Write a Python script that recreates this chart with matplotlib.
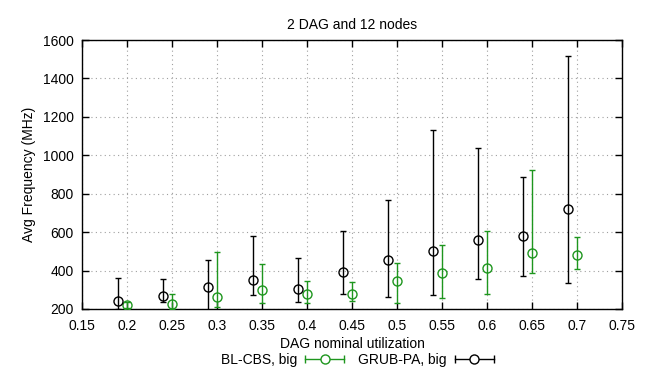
import matplotlib
matplotlib.use("Agg")
from matplotlib import pyplot as plt
from matplotlib.legend_handler import HandlerBase
from matplotlib.lines import Line2D
import numpy as np

plt.rcParams['font.family'] = ['Liberation Sans', 'DejaVu Sans']
plt.rcParams['font.size'] = 10

# GRUB-PA (black), slightly left of the nominal utilization
grub_x = [0.19, 0.24, 0.29, 0.34, 0.39, 0.44, 0.49, 0.54, 0.59, 0.64, 0.69]
grub_y = [243, 268, 314, 349, 306, 394, 457, 502, 559, 580, 720]
grub_lo = [200, 238, 195, 271, 238, 276, 261, 271, 356, 373, 334]
grub_hi = [363, 355, 457, 582, 467, 604, 766, 1131, 1036, 886, 1519]

# BL-CBS (green)
bl_x = [0.2, 0.25, 0.3, 0.35, 0.4, 0.45, 0.5, 0.55, 0.6, 0.65, 0.7]
bl_y = [219, 226, 264, 297, 276, 280, 348, 387, 411, 493, 481]
bl_lo = [205, 200, 209, 229, 233, 243, 229, 255, 276, 386, 407]
bl_hi = [235, 276, 495, 436, 344, 339, 438, 532, 604, 922, 576]

green = '#1e961e'

fig = plt.figure(figsize=(6.52, 3.74), dpi=100)
ax = fig.add_axes([82 / 652, 65 / 374, 540 / 652, 269 / 374])

def errs(y, lo, hi):
    y = np.array(y)
    return [y - np.array(lo), np.array(hi) - y]

ax.errorbar(bl_x, bl_y, yerr=errs(bl_y, bl_lo, bl_hi), fmt='o', ms=6.5,
            mfc='none', mec=green, mew=1, ecolor=green, elinewidth=1,
            capsize=2.5, capthick=1, zorder=3)
ax.errorbar(grub_x, grub_y, yerr=errs(grub_y, grub_lo, grub_hi), fmt='o', ms=6.5,
            mfc='none', mec='black', mew=1, ecolor='black', elinewidth=1,
            capsize=2.5, capthick=1, zorder=3)

ax.set_xlim(0.15, 0.75)
ax.set_ylim(200, 1600)
ax.set_xticks(np.arange(0.15, 0.751, 0.05))
ax.set_xticklabels(['0.15', '0.2', '0.25', '0.3', '0.35', '0.4', '0.45',
                    '0.5', '0.55', '0.6', '0.65', '0.7', '0.75'])
ax.set_yticks(range(200, 1601, 200))
ax.tick_params(direction='in', length=5, width=1, top=True, right=True)
ax.tick_params(axis='x', pad=7)
ax.tick_params(axis='y', pad=6)
ax.grid(True, linestyle=(0, (1, 3)), color='#a0a0a0', linewidth=0.8)
for s in ax.spines.values():
    s.set_linewidth(1)

ax.set_title('2 DAG and 12 nodes', fontsize=10, pad=8)
ax.set_xlabel('DAG nominal utilization', labelpad=3)
ax.set_ylabel('Avg Frequency (MHz)', labelpad=5)


# gnuplot style key sample: horizontal bar with caps and an open circle
class ErrKey(HandlerBase):
    def create_artists(self, legend, orig_handle, xdescent, ydescent,
                       width, height, fontsize, trans):
        c = orig_handle.get_color()
        y = height / 2 - ydescent
        x0, x1 = -xdescent, width - xdescent
        bar = Line2D([x0, x1], [y, y], color=c, lw=1)
        caps = Line2D([x0, x1], [y, y], ls='none', marker='|', ms=6, mew=1, color=c)
        circ = Line2D([(x0 + x1) / 2], [y], ls='none', marker='o', ms=6.5,
                      mfc='white', mec=c, mew=1)
        for a in (bar, caps, circ):
            a.set_transform(trans)
        return [bar, caps, circ]


h1 = Line2D([], [], color=green)
h2 = Line2D([], [], color='black')
fig.legend([h1, h2], ['BL-CBS, big', 'GRUB-PA, big'], ncol=2, markerfirst=False,
           loc='center', bbox_to_anchor=(0.548, 0.038), frameon=False,
           handlelength=2.8, columnspacing=1.0, handletextpad=0.6,
           borderpad=0, handler_map={Line2D: ErrKey()})

fig.savefig('out.png', dpi=100)
